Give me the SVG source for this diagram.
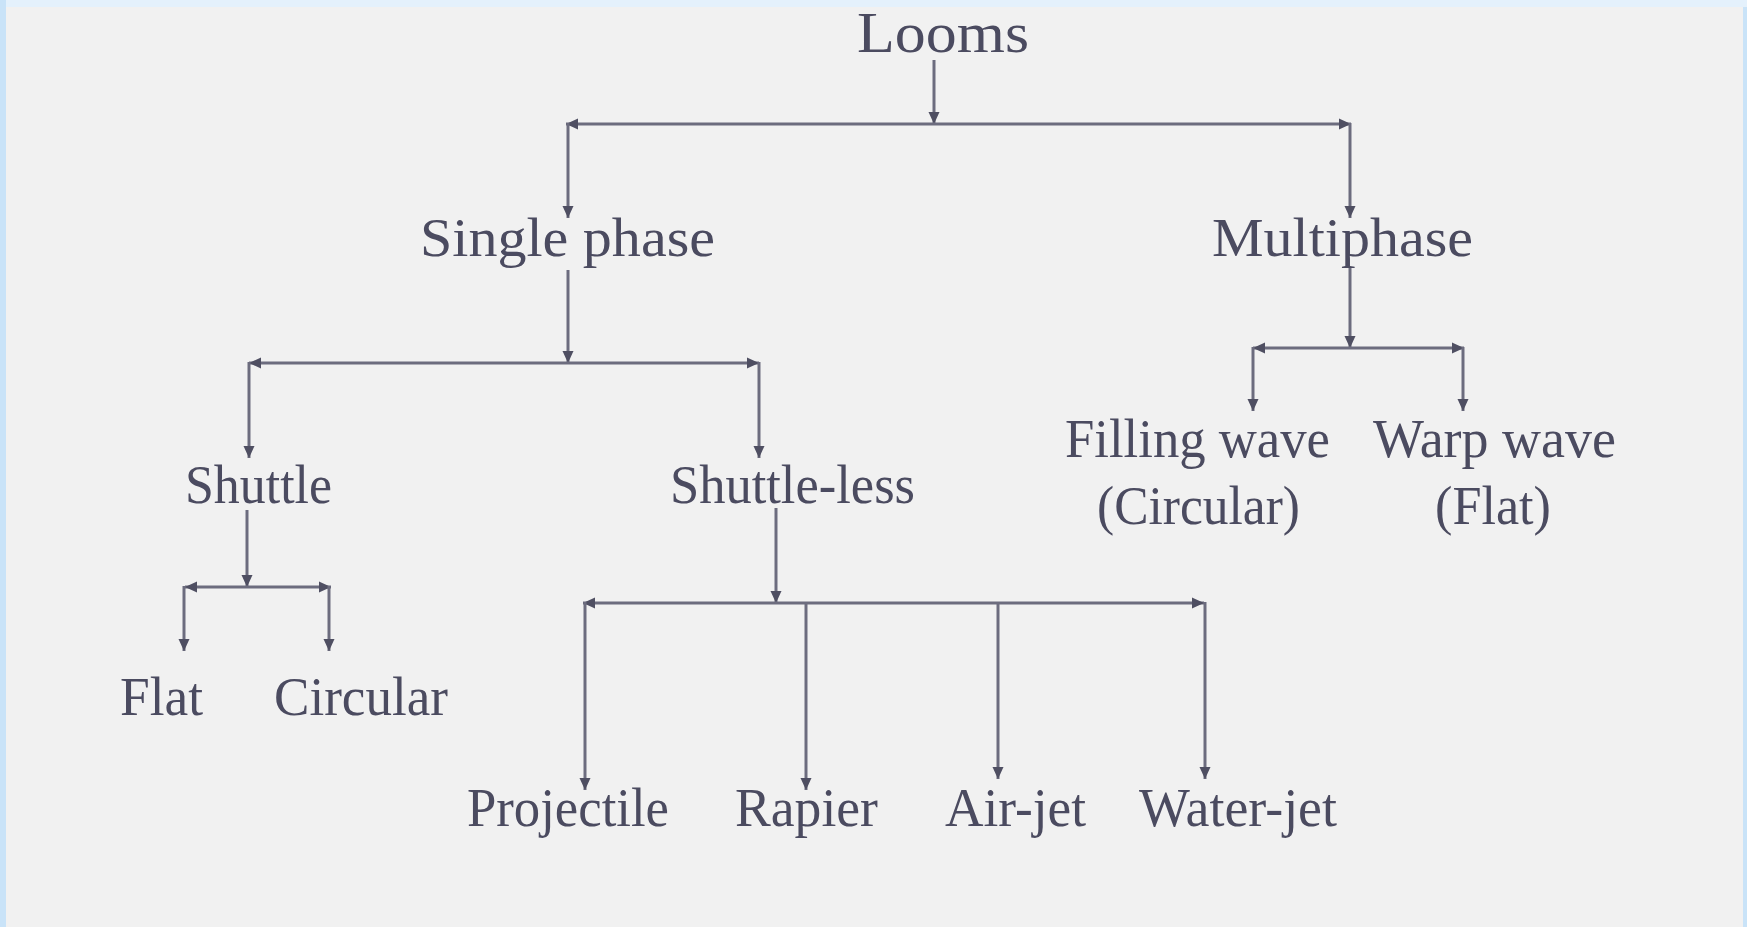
<svg xmlns="http://www.w3.org/2000/svg" width="1747" height="927" viewBox="0 0 1747 927">
<style>
.t{font-family:"Liberation Serif","Times New Roman",serif;font-size:54px;fill:#4b4b60}
.c{stroke:#6c6c7e;stroke-width:3;fill:none}
.a{marker-end:url(#ah)}
</style>
<defs>
<marker id="ah" markerUnits="userSpaceOnUse" markerWidth="13" markerHeight="12" refX="12" refY="6" orient="auto" viewBox="0 0 13 12">
<path d="M0,0.5 L12,6 L0,11.5 z" fill="#4f4f62"/>
</marker>
</defs>
<rect x="0" y="0" width="1747" height="927" fill="#c9e3f8"/>
<rect x="6" y="0" width="1741" height="7" fill="#e4f1fc"/>
<rect x="6" y="7" width="1737" height="920" fill="#f1f1f1"/>

<g id="connectors">
<line class="c a" x1="934" y1="60" x2="934" y2="124"/>
<line class="c a" x1="934" y1="124" x2="566" y2="124"/>
<line class="c a" x1="934" y1="124" x2="1351" y2="124"/>
<line class="c a" x1="568" y1="123" x2="568" y2="218"/>
<line class="c a" x1="1350" y1="123" x2="1350" y2="218"/>

<line class="c a" x1="568" y1="270" x2="568" y2="363"/>
<line class="c a" x1="568" y1="363" x2="249" y2="363"/>
<line class="c a" x1="568" y1="363" x2="759" y2="363"/>
<line class="c a" x1="249" y1="362" x2="249" y2="458"/>
<line class="c a" x1="759" y1="362" x2="759" y2="458"/>

<line class="c a" x1="247" y1="510" x2="247" y2="587"/>
<line class="c a" x1="247" y1="587" x2="185" y2="587"/>
<line class="c a" x1="247" y1="587" x2="331" y2="587"/>
<line class="c a" x1="184" y1="586" x2="184" y2="651"/>
<line class="c a" x1="329" y1="586" x2="329" y2="651"/>

<line class="c a" x1="776" y1="508" x2="776" y2="603"/>
<line class="c a" x1="776" y1="603" x2="583" y2="603"/>
<line class="c a" x1="776" y1="603" x2="1204" y2="603"/>
<line class="c a" x1="585" y1="602" x2="585" y2="790"/>
<line class="c a" x1="806" y1="603" x2="806" y2="790"/>
<line class="c a" x1="998" y1="603" x2="998" y2="779"/>
<line class="c a" x1="1205" y1="602" x2="1205" y2="779"/>

<line class="c a" x1="1350" y1="268" x2="1350" y2="348"/>
<line class="c a" x1="1350" y1="348" x2="1253" y2="348"/>
<line class="c a" x1="1350" y1="348" x2="1464" y2="348"/>
<line class="c a" x1="1253" y1="347" x2="1253" y2="411"/>
<line class="c a" x1="1463" y1="347" x2="1463" y2="411"/>
</g>

<g id="looms"><text class="t" x="857" y="52" style="font-size:57px" textLength="172" lengthAdjust="spacingAndGlyphs">Looms</text></g>
<g id="single-phase"><text class="t" x="420" y="256" textLength="295" lengthAdjust="spacingAndGlyphs">Single phase</text></g>
<g id="multiphase"><text class="t" x="1212" y="256" textLength="261" lengthAdjust="spacingAndGlyphs">Multiphase</text></g>
<g id="shuttle"><text class="t" x="185" y="503" textLength="147" lengthAdjust="spacingAndGlyphs">Shuttle</text></g>
<g id="shuttle-less"><text class="t" x="670" y="503" textLength="245" lengthAdjust="spacingAndGlyphs">Shuttle-less</text></g>
<g id="flat"><text class="t" x="120" y="715" textLength="83" lengthAdjust="spacingAndGlyphs">Flat</text></g>
<g id="circular"><text class="t" x="274" y="715" textLength="174" lengthAdjust="spacingAndGlyphs">Circular</text></g>
<g id="filling-wave">
<text class="t" x="1065" y="457" textLength="265" lengthAdjust="spacingAndGlyphs">Filling wave</text>
<text class="t" x="1097" y="524" textLength="203" lengthAdjust="spacingAndGlyphs">(Circular)</text>
</g>
<g id="warp-wave">
<text class="t" x="1373" y="457" textLength="243" lengthAdjust="spacingAndGlyphs">Warp wave</text>
<text class="t" x="1435" y="524" textLength="116" lengthAdjust="spacingAndGlyphs">(Flat)</text>
</g>
<g id="projectile"><text class="t" x="467" y="826" textLength="202" lengthAdjust="spacingAndGlyphs">Projectile</text></g>
<g id="rapier"><text class="t" x="735" y="826" textLength="143" lengthAdjust="spacingAndGlyphs">Rapier</text></g>
<g id="air-jet"><text class="t" x="945" y="826" textLength="141" lengthAdjust="spacingAndGlyphs">Air-jet</text></g>
<g id="water-jet"><text class="t" x="1139" y="826" textLength="198" lengthAdjust="spacingAndGlyphs">Water-jet</text></g>
</svg>
